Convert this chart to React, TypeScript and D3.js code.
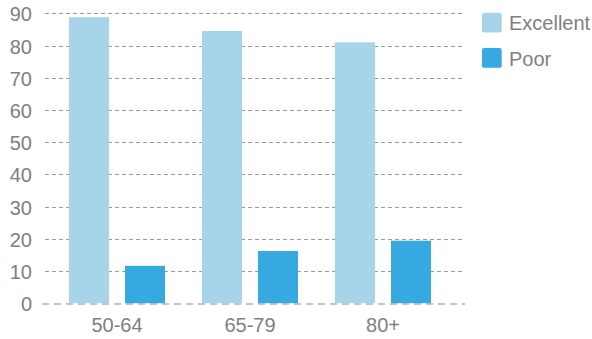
import React from "react";
import * as d3 from "d3";

const categories = ["50-64", "65-79", "80+"];
const excellent = [88.8, 84.5, 81];
const poor = [11.6, 16.2, 19.4];
const seriesNames = ["Excellent", "Poor"];
const yTicks = [0, 10, 20, 30, 40, 50, 60, 70, 80, 90];

const W = 592;
const H = 339;
const colors = ["#a8d4ea", "#36a9e0"];
const font = "'Liberation Sans', Arial, Helvetica, sans-serif";

export default function App() {
  const y = d3.scaleLinear().domain([0, 90]).range([303.2, 13.3]);
  const x = d3.scaleBand().domain(categories).range([50.5, 449.5]).paddingInner(0).paddingOuter(0);
  const sub = d3.scaleBand().domain(seriesNames).range([18.5, 114.5]).paddingInner(16 / 56).paddingOuter(0);
  const gridX0 = 45;
  const gridX1 = 463;
  const series = [excellent, poor];

  return (
    <svg width={W} height={H} style={{ position: "absolute", left: 0, top: 0 }}>
      <rect width={W} height={H} fill="#ffffff" />
      {yTicks.filter((t) => t !== 0).map((t) => (
        <line
          key={"g" + t}
          x1={gridX0}
          x2={gridX1}
          y1={Math.round(y(t)) + 0.5}
          y2={Math.round(y(t)) + 0.5}
          stroke="#9a9a9a"
          strokeWidth={1}
          strokeDasharray="4,3"
        />
      ))}
      <line x1={42} x2={465} y1={304} y2={304} stroke="#c4c4c4" strokeWidth={2} strokeDasharray="7,5" />
      {categories.map((c, i) =>
        series.map((s, j) => {
          const bx = (x(c) as number) + (sub(seriesNames[j]) as number);
          return (
            <rect
              key={c + j}
              x={bx}
              y={y(s[i])}
              width={sub.bandwidth()}
              height={y(0) - y(s[i])}
              fill={colors[j]}
            />
          );
        })
      )}
      {yTicks.map((t) => (
        <text
          key={"t" + t}
          x={32}
          y={y(t) + 1}
          textAnchor="end"
          dominantBaseline="central"
          fontFamily={font}
          fontSize={20}
          fill="#808080"
        >
          {t}
        </text>
      ))}
      {categories.map((c) => (
        <text
          key={"x" + c}
          x={(x(c) as number) + x.bandwidth() / 2}
          y={331.5}
          textAnchor="middle"
          fontFamily={font}
          fontSize={20}
          fill="#808080"
        >
          {c}
        </text>
      ))}
      {seriesNames.map((n, j) => (
        <g key={"l" + n} transform={`translate(482, ${12.7 + j * 35.3})`}>
          <rect width={19.7} height={19.7} rx={2} ry={2} fill={colors[j]} />
          <text x={27} y={10.5} dominantBaseline="central" fontFamily={font} fontSize={20} fill="#808080">
            {n}
          </text>
        </g>
      ))}
    </svg>
  );
}
